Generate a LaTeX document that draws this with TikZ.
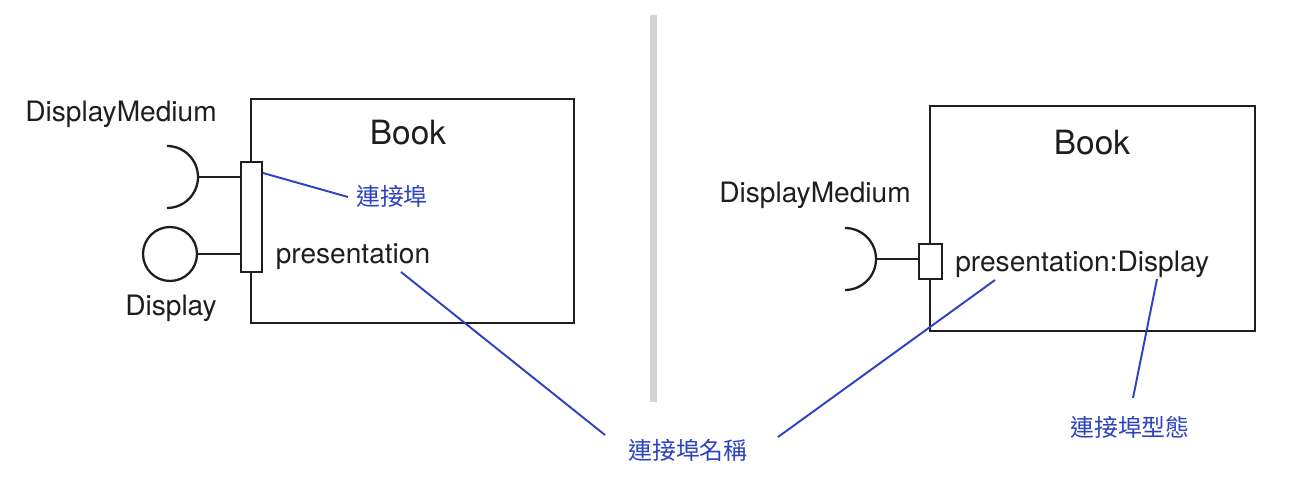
\documentclass[tikz,border=0pt]{standalone}
\usepackage{fontspec}
\setmainfont{TeX Gyre Heros}
\newfontfamily\cjk{Noto Sans CJK TC}
\usetikzlibrary{positioning}

\definecolor{portblue}{RGB}{45,65,195}
\definecolor{divider}{RGB}{212,212,212}
\definecolor{ink}{RGB}{30,30,30}

\tikzset{
  uml/.style={draw=ink, line width=1.3pt},
  classbox/.style={uml, rectangle, inner sep=0pt},
  portbox/.style={uml, rectangle, fill=white, inner sep=0pt},
  lolly/.style={uml, circle, minimum size=1.08cm, inner sep=0pt},
  umltext/.style={text=ink, font=\fontsize{16}{19}\selectfont, inner sep=0pt, anchor=base},
  titletext/.style={text=ink, font=\fontsize{19}{23}\selectfont, inner sep=0pt, anchor=base},
  note/.style={text=portblue, font=\cjk\fontsize{13.6}{16}\selectfont},
  callout/.style={draw=portblue, line width=1.1pt}
}

\begin{document}
\begin{tikzpicture}[x=0.02cm, y=-0.02cm]
  \useasboundingbox (0,0) rectangle (1293,496);

  % divider between the two variants
  \draw[line width=0.14cm, divider] (653,15) -- (653,402);

  % left: Book with one port, provided and required interface
  \node[classbox, minimum width=6.46cm, minimum height=4.48cm] (lbook) at (412.5,211) {};
  \node[titletext] (lbooktitle) at (408,145) {Book};
  \node[portbox, minimum width=0.42cm, minimum height=2.2cm] (lport) at (251.5,217) {};
  \node[lolly] (lprov) at (170,254) {};
  \coordinate (lsock) at (198,177);
  \draw[uml] (lsock) arc[start angle=0, end angle=90, radius=0.62cm];
  \draw[uml] (lsock) arc[start angle=0, end angle=-90, radius=0.62cm];
  \draw[uml] (lsock) -- (lsock -| lport.west);
  \draw[uml] (lprov.east) -- (lprov.east -| lport.west);
  \node[umltext] (lreqname) at (121,122) {DisplayMedium};
  \node[umltext] (lprovname) at (171,315) {Display};
  \node[umltext] (lpres) at (353,263) {presentation};

  % right: Book with a typed port
  \node[classbox, minimum width=6.5cm, minimum height=4.5cm] (rbook) at (1092.5,218.5) {};
  \node[titletext] (rbooktitle) at (1092,155) {Book};
  \node[portbox, minimum width=0.46cm, minimum height=0.7cm] (rport) at (930.5,261.5) {};
  \coordinate (rsock) at (876,259);
  \draw[uml] (rsock) arc[start angle=0, end angle=90, radius=0.62cm];
  \draw[uml] (rsock) arc[start angle=0, end angle=-90, radius=0.62cm];
  \draw[uml] (rsock) -- (rsock -| rport.west);
  \node[umltext] (rreqname) at (815,203) {DisplayMedium};
  \node[umltext, anchor=base west] (rpres) at (955,272) {presentation:Display};

  % notes
  \node[note] (portlbl) at (392,196) {連接埠};
  \node[note] (namelbl) at (688,450) {連接埠名稱};
  \node[note] (typelbl) at (1130,427) {連接埠型態};

  \coordinate (lportpt) at (263,173);
  \coordinate (portend) at (348,197);
  \coordinate (lprespt) at (401,272);
  \coordinate (nameendl) at (605,435);
  \coordinate (rprespt) at (995,280);
  \coordinate (nameendr) at (778,437);
  \coordinate (typept) at (1157,279);
  \coordinate (typeend) at (1133,398);

  \draw[callout] (lportpt) -- (portend);
  \draw[callout] (lprespt) -- (nameendl);
  \draw[callout] (rprespt) -- (nameendr);
  \draw[callout] (typept) -- (typeend);
\end{tikzpicture}
\end{document}
